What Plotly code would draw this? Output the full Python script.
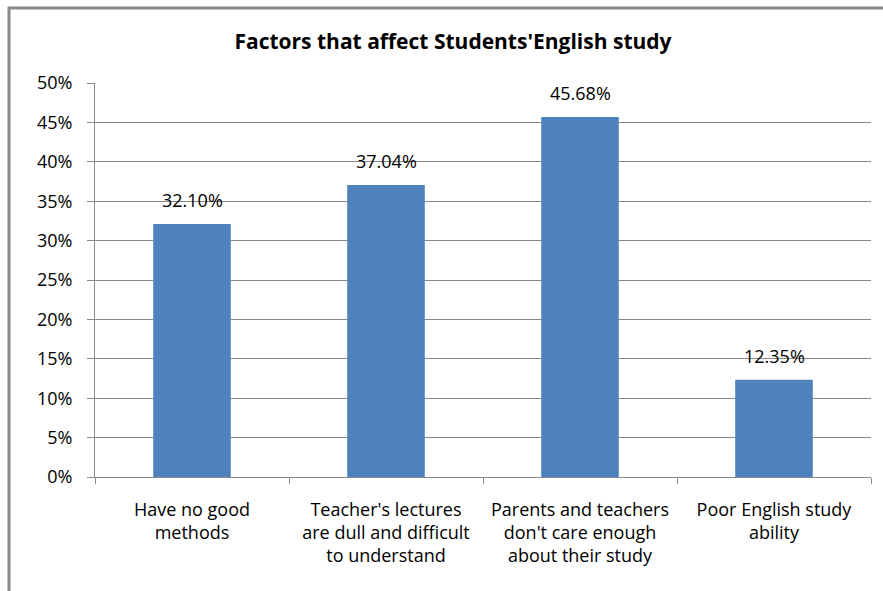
import plotly.graph_objects as go

categories = [
    "Have no good<br>methods",
    "Teacher's lectures<br>are dull and difficult<br>to understand",
    "Parents and teachers<br>don't care enough<br>about their study",
    "Poor English study<br>ability",
]
values = [0.3210, 0.3704, 0.4568, 0.1235]
labels = ["32.10%", "37.04%", "45.68%", "12.35%"]
title_text = "Factors that affect Students'English study"

FONT = "Open Sans"
GRAY = "#8a8a8a"

fig = go.Figure(
    go.Bar(
        x=categories,
        y=values,
        marker=dict(color="#4F81BD", line=dict(width=0)),
        width=0.4,
    )
)

for c, v, t in zip(categories, values, labels):
    fig.add_annotation(
        x=c, y=v, text=t, showarrow=False,
        yanchor="bottom", yshift=10,
        font=dict(family=FONT, size=18, color="#000000"),
    )

L, R, T, B = 95, 12, 83, 114
W, H = 883, 591
pw, ph = W - L - R, H - T - B

fig.add_shape(
    type="rect", xref="paper", yref="paper",
    x0=(9 - L) / pw, x1=(W + 20 - L) / pw,
    y0=-(H + 20 - (H - B)) / ph, y1=1 + (T - 8) / ph,
    line=dict(color=GRAY, width=3), layer="below",
)

fig.update_layout(
    width=W, height=H,
    margin=dict(l=L, r=R, t=T, b=B),
    paper_bgcolor="white", plot_bgcolor="white",
    showlegend=False,
    title=dict(
        text="<b>" + title_text + "</b>",
        x=(453) / W, xanchor="center", y=1 - 42 / H, yanchor="middle",
        font=dict(family=FONT, size=21, color="#000000"),
    ),
    font=dict(family=FONT, size=18, color="#000000"),
    bargap=0.6,
)
fig.update_yaxes(
    range=[0, 0.5], dtick=0.05, tickformat=".0%",
    showgrid=True, gridcolor=GRAY, gridwidth=1,
    showline=True, linecolor=GRAY, linewidth=1,
    ticks="outside", ticklen=7, tickcolor=GRAY,
    tickfont=dict(family=FONT, size=18, color="#000000"),
    ticklabelstandoff=11, zeroline=False,
)
fig.update_xaxes(
    showline=True, linecolor=GRAY, linewidth=1,
    ticks="outside", ticklen=6, tickcolor=GRAY, tickson="boundaries",
    tickfont=dict(family=FONT, size=18, color="#000000"),
    ticklabelstandoff=16, tickangle=0,
)

fig.write_html("out.html")
